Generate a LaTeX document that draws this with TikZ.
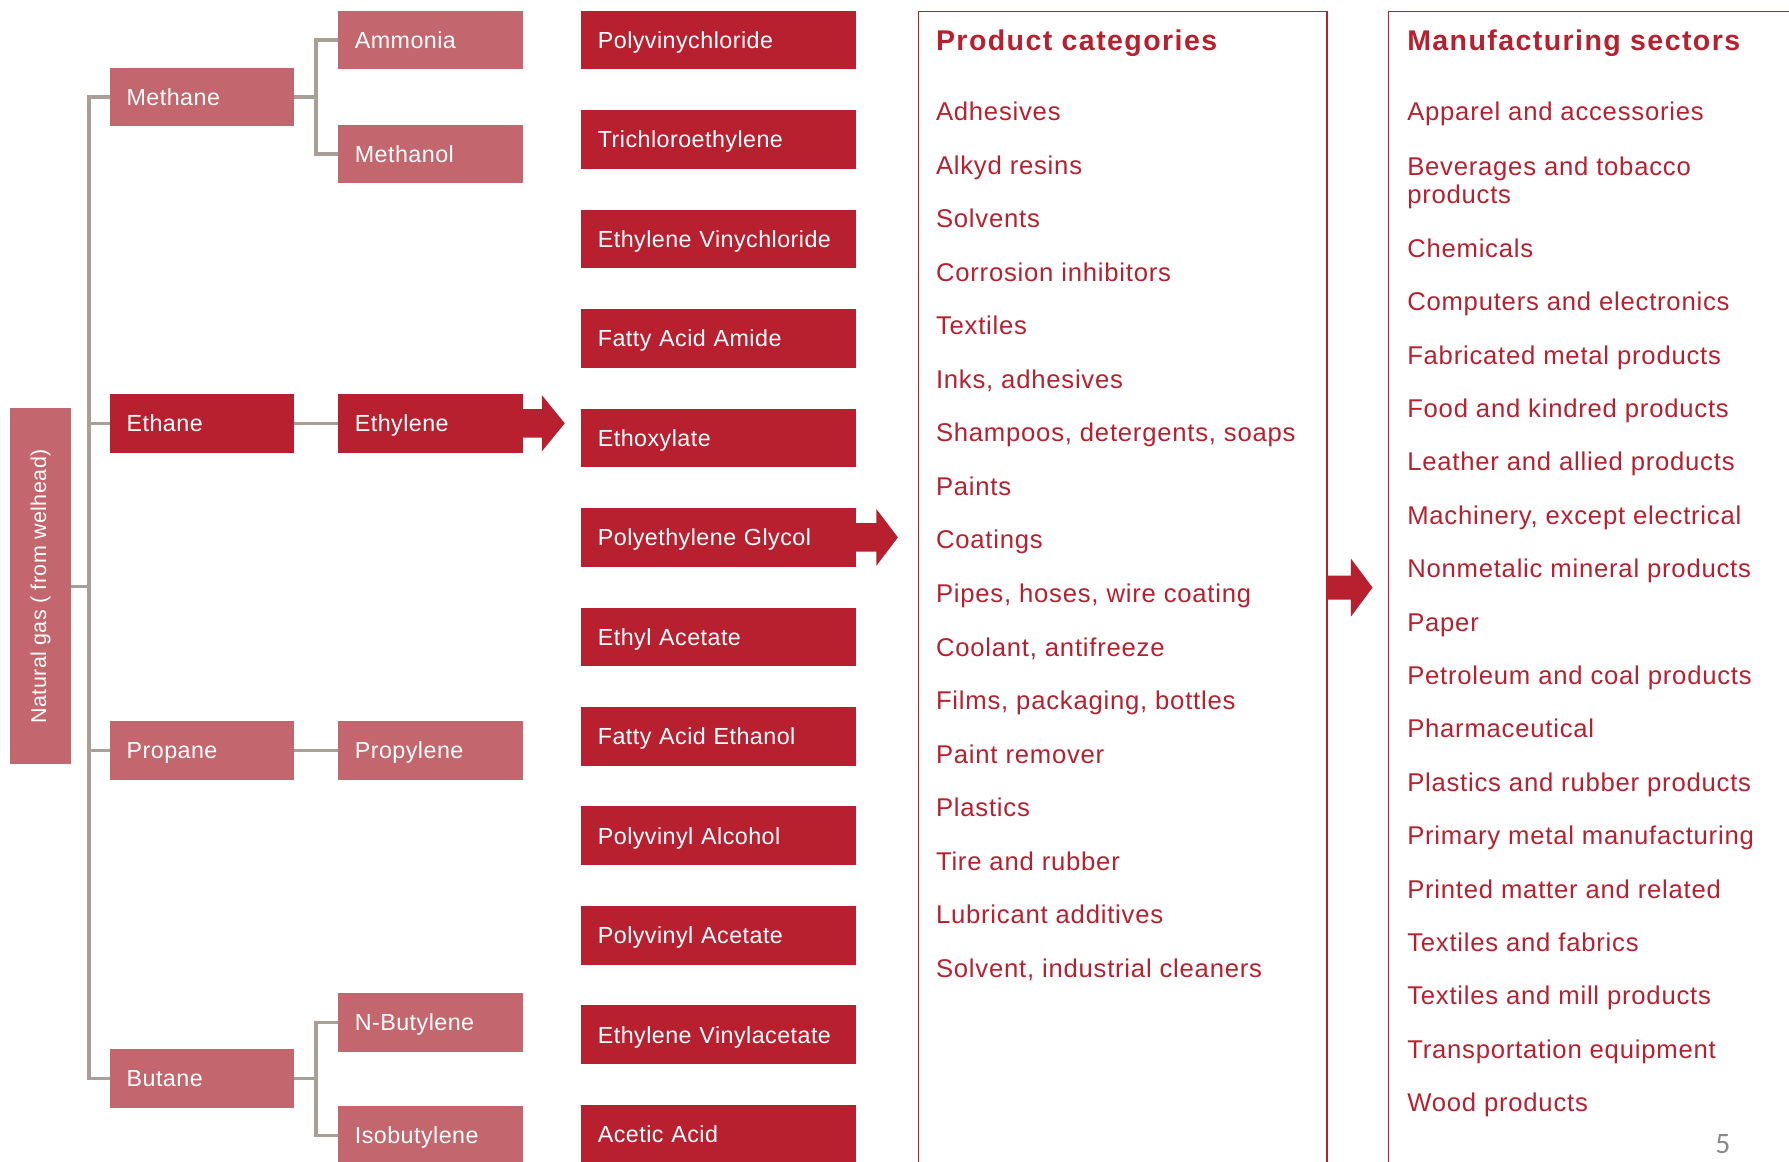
\documentclass[tikz,border=0pt]{standalone}
\usepackage{fontspec}
\setmainfont{Liberation Sans}
\newfontfamily\itemfont[LetterSpace=3]{Liberation Sans}
\newfontfamily\titlefont[LetterSpace=5]{Liberation Sans}
\newfontfamily\boxfont[LetterSpace=2]{Liberation Sans}
\newfontfamily\pagefont{Carlito}
\usetikzlibrary{calc}
\definecolor{dred}{HTML}{B8202F}
\definecolor{lred}{HTML}{C4666D}
\definecolor{connc}{HTML}{A89F96}
\definecolor{pgray}{HTML}{8A8A8A}
\begin{document}
\begin{tikzpicture}[x=0.5pt,y=-0.5pt,
  chembox/.style={fill=#1, text=white, inner xsep=7.5pt, inner ysep=0pt, outer sep=0pt,
    minimum height=25.75pt, text height=0.72em, text depth=0pt, align=left,
    font=\boxfont\fontsize{10.2}{12}\selectfont},
  lonebox/.style={chembox=#1, text width=66pt},
  lthreebox/.style={chembox=dred, text width=105.5pt},
  connline/.style={draw=connc, line width=1.5pt},
  panelbox/.style={draw=dred, line width=0.8pt, anchor=north west, inner sep=0pt, outer sep=0pt, minimum height=520pt},
  listitem/.style={text=dred, anchor=base west, inner sep=0pt, align=left, font=\itemfont\fontsize{11.25}{12.5}\selectfont},
  paneltitle/.style={text=dred, anchor=base west, inner sep=0pt, font=\titlefont\bfseries\fontsize{12.5}{15}\selectfont},
]
\useasboundingbox (0,0) rectangle (1568,1018);
\fill[white] (0,0) rectangle (1568,1018);
\clip (0,0) rectangle (1568,1018);

% natural gas
\node[fill=lred, text=white, rotate=90, minimum width=156pt, minimum height=26.5pt, inner sep=0pt, outer sep=0pt,
  font=\boxfont\fontsize{9.4}{11}\selectfont] (ng) at (35.5,514) {Natural gas ( from welhead)};

% level 1
\node[lonebox=lred] (methane) at (177,85) {Methane};
\node[lonebox=dred] (ethane) at (177,371) {Ethane};
\node[lonebox=lred] (propane) at (177,658) {Propane};
\node[lonebox=lred] (butane) at (177,945) {Butane};

% level 2
\node[lonebox=lred] (ammonia) at (377,35) {Ammonia};
\node[lonebox=lred] (methanol) at (377,135) {Methanol};
\node[lonebox=dred] (ethylene) at (377,371) {Ethylene};
\node[lonebox=lred] (propylene) at (377,658) {Propylene};
\node[lonebox=lred] (nbutylene) at (377,896) {N-Butylene};
\node[lonebox=lred] (isobutylene) at (377,995) {Isobutylene};

% connectors
\draw[connline] (methane.west) -- ++(-18,0) |- (butane.west);
\draw[connline] (ethane.west) -- ++(-18,0);
\draw[connline] (propane.west) -- ++(-18,0);
\draw[connline] (ng.south) -- ++(16,0);
\draw[connline] (ammonia.west) -- ++(-19,0) |- (methanol.west);
\draw[connline] (methane.east) -- ++(19,0);
\draw[connline] (nbutylene.west) -- ++(-19,0) |- (isobutylene.west);
\draw[connline] (butane.east) -- ++(19,0);
\draw[connline] (ethane.east) -- (ethylene.west);
\draw[connline] (propane.east) -- (propylene.west);

% level 3
\foreach \t [count=\i from 0] in {Polyvinychloride, Trichloroethylene, Ethylene Vinychloride,
  Fatty Acid Amide, Ethoxylate, Polyethylene Glycol, Ethyl Acetate, Fatty Acid Ethanol,
  Polyvinyl Alcohol, Polyvinyl Acetate, Ethylene Vinylacetate, Acetic Acid}
  \node[lthreebox] (c\i) at (629.5,{35+87.2*\i}) {\t};

% block arrows
\fill[dred] (ethylene.east) ++(0,-12.5) -- ++(17,0) -- ++(0,-12) -- ++(20,24.5) -- ++(-20,24.5) -- ++(0,-12) -- ++(-17,0) -- cycle;
\fill[dred] (c5.east) ++(0,-12.5) -- ++(18,0) -- ++(0,-12.5) -- ++(19,25) -- ++(-19,25) -- ++(0,-12.5) -- ++(-18,0) -- cycle;

% panels
\node[panelbox, minimum width=179pt] (prod) at (805,10) {};
\node[panelbox, minimum width=200pt] (mfg) at (1217,10) {};
\coordinate (pa) at ($(prod.north east)+(0,505)$);
\fill[dred] (pa) ++(0,-10.5) -- ++(21,0) -- ++(0,-15) -- ++(19,25.5) -- ++(-19,25.5) -- ++(0,-15) -- ++(-21,0) -- cycle;

\node[paneltitle] (prodtitle) at (820,44) {Product categories};
\foreach \t [count=\i from 0] in {Adhesives, Alkyd resins, Solvents, Corrosion inhibitors, Textiles,
  {Inks, adhesives}, {Shampoos, detergents, soaps}, Paints, Coatings, {Pipes, hoses, wire coating},
  {Coolant, antifreeze}, {Films, packaging, bottles}, Paint remover, Plastics, Tire and rubber,
  Lubricant additives, {Solvent, industrial cleaners}}
  \node[listitem] (p\i) at (820,{105.6+46.94*\i}) {\t};

\node[paneltitle] (mfgtitle) at (1233,44) {Manufacturing sectors};
\node[listitem] (m0) at (1233,105.6) {Apparel and accessories};
\node[listitem] (m1) at (1233,178.6) {Beverages and tobacco\\products};
\foreach \t [count=\i from 2] in {Chemicals, Computers and electronics, Fabricated metal products,
  Food and kindred products, Leather and allied products, {Machinery, except electrical},
  Nonmetalic mineral products, Paper, Petroleum and coal products, Pharmaceutical,
  Plastics and rubber products, Primary metal manufacturing, Printed matter and related,
  Textiles and fabrics, Textiles and mill products, Transportation equipment, Wood products}
  \node[listitem] (m\i) at (1233,{225.6+46.8*(\i-2)}) {\t};

\node[text=pgray, inner sep=0pt, font=\pagefont\fontsize{13}{15}\selectfont] (pg) at (1510,1003) {5};
\end{tikzpicture}
\end{document}
